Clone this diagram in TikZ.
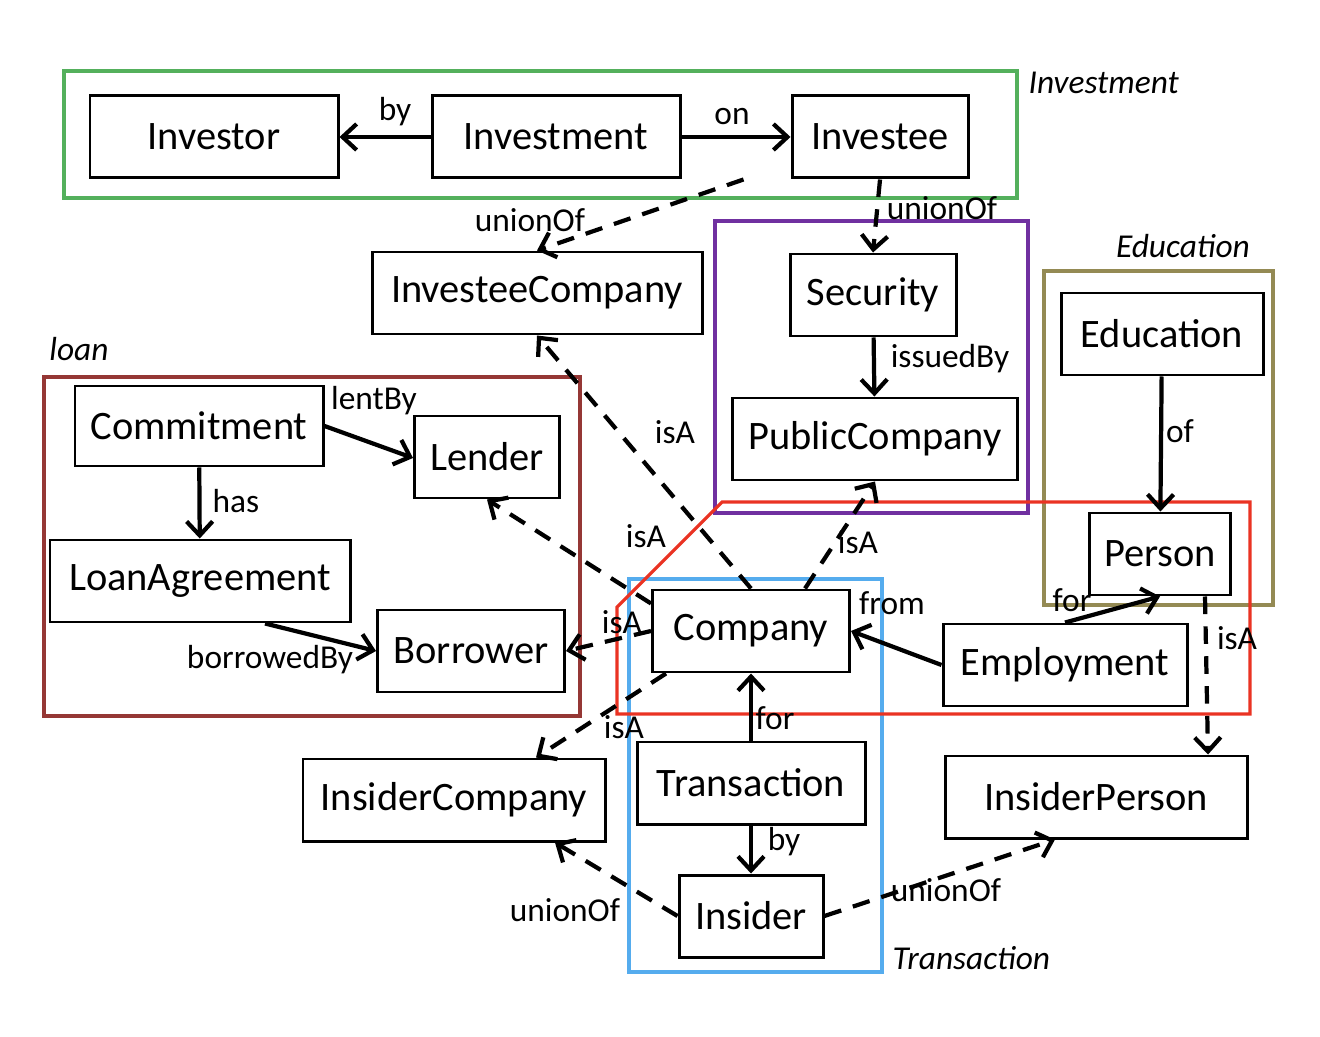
\documentclass[tikz,border=0pt]{standalone}
\usepackage{fontspec}
\setmainfont{Carlito}
\usetikzlibrary{arrows.meta,calc}

\definecolor{grpgreen}{RGB}{84,176,92}
\definecolor{grppurple}{RGB}{112,48,160}
\definecolor{grpolive}{RGB}{148,138,84}
\definecolor{grpbrown}{RGB}{149,55,53}
\definecolor{grpblue}{RGB}{85,172,238}
\definecolor{grpred}{RGB}{234,51,35}

\begin{document}
\begin{tikzpicture}[
  box/.style={draw, fill=white, line width=0.85pt, minimum height=0.82cm, inner sep=0pt, font=\fontsize{11.5}{13}\selectfont},
  lbl/.style={inner sep=0pt, font=\fontsize{9.5}{11}\selectfont},
  grplbl/.style={inner sep=0pt, font=\fontsize{9.5}{11}\selectfont\itshape},
  grp/.style={line width=0.9pt},
  rel/.style={line width=1.2pt, -{Straight Barb[length=1.4mm,width=2.6mm]}},
  isa/.style={rel, dash pattern=on 5pt off 3.5pt}
]
\useasboundingbox (0,0) rectangle (13.2,10.36);

% groups
\draw[grp, grpgreen] (0.64,9.65) rectangle (10.17,8.38);
\draw[grp, grppurple] (7.15,8.15) rectangle (10.28,5.23);
\draw[grp, grpolive] (10.44,7.65) rectangle (12.73,4.31);
\draw[grp, grpbrown] (0.44,6.59) rectangle (5.80,3.20);
\draw[grp, grpblue] (6.29,4.57) rectangle (8.82,0.64);
\draw[grp, grpred] (6.17,4.29) -- (7.22,5.34) -- (12.50,5.34) -- (12.50,3.22) -- (6.17,3.22) -- cycle;

\node[grplbl, anchor=west] (gInvestment) at (10.28,9.53) {Investment};
\node[grplbl] (gEducation) at (11.83,7.90) {Education};
\node[grplbl] (gLoan) at (0.79,6.87) {loan};
\node[grplbl, anchor=west] (gTransaction) at (8.92,0.78) {Transaction};

% concepts
\node[box, minimum width=2.48cm] (Investor) at (2.14,8.99) {Investor};
\node[box, minimum width=2.48cm] (Investment) at (5.56,8.99) {Investment};
\node[box, minimum width=1.76cm] (Investee) at (8.80,8.99) {Investee};
\node[box, minimum width=3.30cm] (InvesteeCompany) at (5.37,7.43) {InvesteeCompany};
\node[box, minimum width=1.66cm] (Security) at (8.73,7.41) {Security};
\node[box, minimum width=2.85cm] (PublicCompany) at (8.75,5.97) {PublicCompany};
\node[box, minimum width=2.02cm] (Education) at (11.62,7.02) {Education};
\node[box, minimum width=1.41cm] (Person) at (11.60,4.82) {Person};
\node[box, minimum width=2.48cm, minimum height=0.80cm] (Commitment) at (1.99,6.10) {Commitment};
\node[box, minimum width=1.45cm] (Lender) at (4.87,5.79) {Lender};
\node[box, minimum width=3.00cm] (LoanAgreement) at (2.00,4.55) {LoanAgreement};
\node[box, minimum width=1.87cm] (Borrower) at (4.71,3.85) {Borrower};
\node[box, minimum width=1.97cm] (Company) at (7.51,4.05) {Company};
\node[box, minimum width=2.44cm] (Employment) at (10.65,3.71) {Employment};
\node[box, minimum width=2.28cm] (Transaction) at (7.51,2.53) {Transaction};
\node[box, minimum width=1.44cm] (Insider) at (7.51,1.20) {Insider};
\node[box, minimum width=3.02cm] (InsiderCompany) at (4.54,2.36) {InsiderCompany};
\node[box, minimum width=3.02cm] (InsiderPerson) at (10.96,2.39) {InsiderPerson};

% relations
\draw[rel] (Investment) -- (Investor);
\draw[rel] (Investment) -- (Investee);
\draw[isa] ([xshift=-0.47cm]Investee.south west) -- (InvesteeCompany.north);
\draw[isa] (Investee.south) -- (Security.north);
\draw[rel] (Security) -- (PublicCompany);
\draw[rel] (Education) -- (Person);
\draw[rel] (Commitment.east) -- ([yshift=-0.01cm]Lender.west);
\draw[rel] (Commitment) -- (LoanAgreement);
\draw[rel] ([xshift=0.65cm]LoanAgreement.south) -- (Borrower.west);
\draw[isa] (Company.north) -- (InvesteeCompany.south);
\draw[isa] ([yshift=-0.15cm]Company.north west) -- (Lender.south);
\draw[isa] ([xshift=0.54cm]Company.north) -- (PublicCompany.south);
\draw[isa] (Company.west) -- (Borrower.east);
\draw[isa] ([xshift=0.15cm]Company.south west) -- ([xshift=0.82cm]InsiderCompany.north);
\draw[rel] (Employment.west) -- (Company.east);
\draw[rel] (Employment.north) -- (Person.south);
\draw[isa] ([xshift=0.45cm]Person.south) -- ([xshift=1.12cm]InsiderPerson.north);
\draw[rel] (Transaction) -- (Company);
\draw[rel] (Transaction) -- (Insider);
\draw[isa] (Insider.west) -- ([xshift=1.01cm]InsiderCompany.south);
\draw[isa] (Insider.east) -- ([xshift=-0.41cm]InsiderPerson.south);

% relation labels
\node[lbl] (lBy) at (3.95,9.24) {by};
\node[lbl] (lOn) at (7.32,9.19) {on};
\node[lbl] (lUnionA) at (5.30,8.16) {unionOf};
\node[lbl] (lUnionB) at (9.42,8.28) {unionOf};
\node[lbl] (lIssuedBy) at (9.50,6.77) {issuedBy};
\node[lbl] (lOf) at (11.80,6.05) {of};
\node[lbl] (lLentBy) at (3.74,6.35) {lentBy};
\node[lbl] (lHas) at (2.36,5.35) {has};
\node[lbl] (lBorrowedBy) at (2.70,3.76) {borrowedBy};
\node[lbl] (lIsA) at (6.75,6.04) {isA};
\node[lbl] (lIsB) at (6.46,5.00) {isA};
\node[lbl] (lIsC) at (8.58,4.94) {isA};
\node[lbl] (lIsD) at (6.22,4.14) {isA};
\node[lbl] (lIsE) at (6.24,3.09) {isA};
\node[lbl] (lFrom) at (8.92,4.33) {from};
\node[lbl] (lForA) at (10.72,4.36) {for};
\node[lbl] (lIsF) at (12.37,3.98) {isA};
\node[lbl] (lForB) at (7.75,3.18) {for};
\node[lbl] (lByB) at (7.84,1.94) {by};
\node[lbl] (lUnionC) at (5.65,1.26) {unionOf};
\node[lbl] (lUnionD) at (9.46,1.46) {unionOf};
\end{tikzpicture}
\end{document}
